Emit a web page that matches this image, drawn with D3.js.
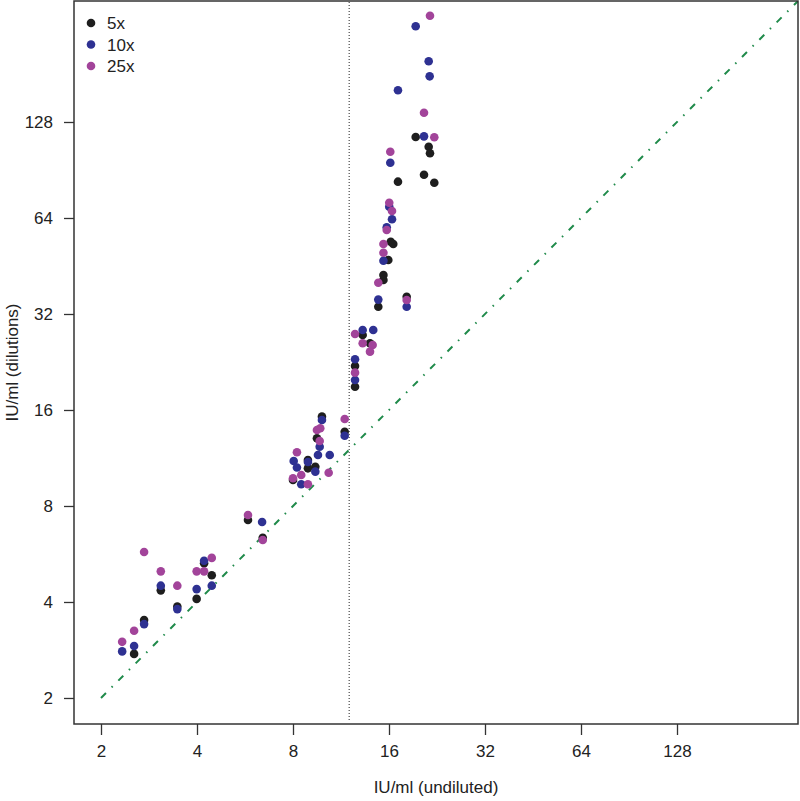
<!DOCTYPE html>
<html><head><meta charset="utf-8">
<script src="https://cdn.jsdelivr.net/npm/d3@7"></script>
<style>
html,body{margin:0;padding:0;background:#fff;}
svg{display:block;font-family:"Liberation Sans",Arial,sans-serif;}
</style></head>
<body>
<svg id="chart" width="800" height="801"></svg>
<script>
// ---- data (IU/ml) ----
const seriesNames = ["5x", "10x", "25x"];
const ticks = [2, 4, 8, 16, 32, 64, 128];
const cutoff = 12;

const x5 = [2.54,2.73,3.08,3.47,3.99,4.21,4.45,5.78,6.43,9.86,9.51,8.91,9.40,8.91,8.00,11.62,13.23,13.95,12.52,12.52,14.81,18.18,15.37,15.37,15.92,16.2,16.5,17.07,20.6,22.19,19.40,21.31,21.51];
const y5 = [2.75,3.51,4.35,3.87,4.09,5.29,4.85,7.23,6.36,15.25,13.04,11.15,10.62,10.50,9.65,13.68,27.5,25.9,21.98,18.93,33.7,36.26,42.41,40.91,47.26,53.94,53.06,83.19,87.49,82.59,114.9,107.1,102.1];

const x10 = [2.33,2.54,2.73,3.08,3.47,3.99,4.21,4.45,6.40,9.86,9.70,9.58,10.43,8.04,8.23,8.91,9.40,8.49,11.62,13.23,14.28,12.52,12.52,14.81,18.18,15.37,15.74,16.35,16.03,16.15,17.07,20.6,19.40,21.31,21.46];
const y10 = [2.80,2.91,3.41,4.50,3.80,4.39,5.39,4.50,7.13,14.89,12.27,11.56,11.56,11.07,10.56,10.99,10.25,9.36,13.29,28.51,28.51,23.08,19.87,35.5,33.7,47.02,59.84,63.4,69.44,95.42,160.9,115.4,255.6,198.4,178.0];

const x25 = [2.33,2.54,2.73,3.08,3.47,3.99,4.21,4.45,5.78,6.43,9.74,9.51,9.70,8.23,8.49,10.35,8.00,8.91,11.62,12.52,13.23,14.22,13.95,12.52,14.81,18.18,15.37,15.37,15.74,16.35,16.03,16.15,20.6,22.19,21.51];
const y25 = [3.00,3.25,5.74,4.99,4.50,4.99,4.99,5.50,7.50,6.26,14.02,13.85,12.79,11.79,10.01,10.17,9.77,9.36,15.0,27.7,25.9,25.58,24.38,20.95,40.11,35.4,49.81,53.06,58.69,67.3,71.48,103.3,136.9,114.6,275.8];

const xs = [x5, x10, x25];
const ys = [y5, y10, y25];
const colors = ["#1e1e1e", "#2e3192", "#a2449a"];

// ---- layout ----
const L = 74, R = 798, T = 1, B = 724;
const svg = d3.select("#chart");
const x = d3.scaleLog().base(2).domain([Math.pow(2,0.71875), Math.pow(2,8.2604)]).range([L, R]);
const y = d3.scaleLog().base(2).domain([Math.pow(2,0.729), Math.pow(2,8.2604)]).range([B, T]);

svg.append("defs").append("clipPath").attr("id","clip")
  .append("rect").attr("x",L).attr("y",T).attr("width",R-L).attr("height",B-T);

// identity line
const lo = 2, hi = x.domain()[1];
svg.append("line").attr("clip-path","url(#clip)")
  .attr("x1", x(lo)).attr("y1", y(lo)).attr("x2", x(hi)).attr("y2", y(hi))
  .attr("stroke", "#1f8a4a").attr("stroke-width", 2)
  .attr("stroke-dasharray", "7,8,1.5,8");

// cutoff line
svg.append("line")
  .attr("x1", x(cutoff)).attr("x2", x(cutoff)).attr("y1", T+1).attr("y2", B-2)
  .attr("stroke", "#222").attr("stroke-width", 1).attr("stroke-dasharray", "1,2");

// points
const g = svg.append("g");
seriesNames.forEach((name, i) => {
  const data = xs[i].map((v, j) => [v, ys[i][j]]);
  g.selectAll(null).data(data).enter().append("circle")
    .attr("cx", d => x(d[0])).attr("cy", d => y(d[1]))
    .attr("r", 4.3).attr("fill", colors[i]);
});

// axes
const xAxis = d3.axisBottom(x).tickValues(ticks).tickFormat(d3.format("d")).tickSize(11).tickSizeOuter(0).tickPadding(10);
const yAxis = d3.axisLeft(y).tickValues(ticks).tickFormat(d3.format("d")).tickSize(10).tickSizeOuter(0).tickPadding(11);
const gx = svg.append("g").attr("transform", `translate(0,${B})`).call(xAxis);
const gy = svg.append("g").attr("transform", `translate(${L},0)`).call(yAxis);
[gx, gy].forEach(a => {
  a.select(".domain").remove();
  a.selectAll(".tick line").attr("stroke", "#333").attr("stroke-width", 1.3);
  a.selectAll(".tick text").attr("fill", "#222").style("font-size", "17px")
    .style("font-family", '"Liberation Sans", Arial, sans-serif');
});

// frame
svg.append("rect").attr("x", L).attr("y", T).attr("width", R-L).attr("height", B-T)
  .attr("fill", "none").attr("stroke", "#333").attr("stroke-width", 1.5);

// axis titles
svg.append("text").attr("x", (L+R)/2).attr("y", 793).attr("text-anchor", "middle")
  .attr("fill", "#222").style("font-size", "17px").text("IU/ml (undiluted)");
svg.append("text").attr("transform", `translate(18,${(T+B)/2}) rotate(-90)`)
  .attr("text-anchor", "middle").attr("fill", "#222").style("font-size", "17px")
  .text("IU/ml (dilutions)");

// legend
const lg = svg.append("g");
seriesNames.forEach((name, i) => {
  lg.append("circle").attr("cx", 91).attr("cy", 23 + i*21.5).attr("r", 4.3).attr("fill", colors[i]);
  lg.append("text").attr("x", 107).attr("y", 23 + i*21.5 + 6).attr("fill", "#222")
    .style("font-size", "17px").text(name);
});
</script>
</body></html>
